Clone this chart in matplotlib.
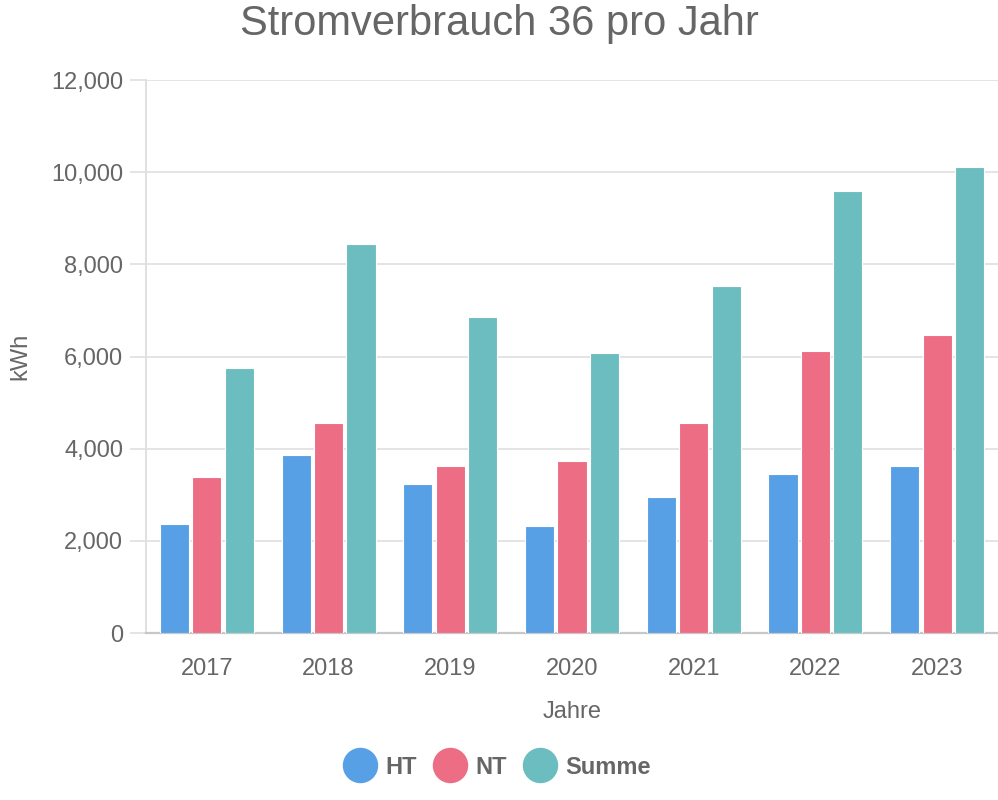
import numpy as np
import matplotlib
matplotlib.use("Agg")
from matplotlib import pyplot as plt
from matplotlib.ticker import FuncFormatter
from matplotlib.lines import Line2D

plt.rcParams['font.family'] = ['Liberation Sans', 'DejaVu Sans']

# data
years = ['2017', '2018', '2019', '2020', '2021', '2022', '2023']
ht = [2360, 3860, 3230, 2320, 2950, 3450, 3630]
nt = [3390, 4555, 3620, 3740, 4555, 6120, 6460]
summe = [5750, 8440, 6860, 6080, 7530, 9590, 10110]
series_names = ['HT', 'NT', 'Summe']
colors = ['#57a0e5', '#ed6d85', '#6cbdbf']

grey = '#666666'
W, H = 998, 800

fig = plt.figure(figsize=(W / 100, H / 100), dpi=100)
ax = fig.add_axes([146 / W, 1 - 633 / H, (998 - 146) / W, (633 - 80) / H])

x = np.arange(len(years))
slot = 0.8 / 3
bar_w = slot * 0.9
for i, (vals, c) in enumerate(zip([ht, nt, summe], colors)):
    ax.bar(x + (i - 1) * slot, vals, width=bar_w, color=c,
           edgecolor='white', linewidth=0.8, zorder=3)

ax.set_xlim(-0.5, len(years) - 0.5)
ax.set_ylim(0, 12000)
ax.set_yticks(np.arange(0, 12001, 2000))
ax.yaxis.set_major_formatter(FuncFormatter(lambda v, p: f'{int(v):,}'))
ax.set_xticks(x)
ax.set_xticklabels(years)

ax.grid(axis='y', color='#e4e4e4', linewidth=1.4, zorder=0)
ax.tick_params(axis='y', length=11.5, color='#e4e4e4', width=1.4, pad=5,
               labelsize=17, labelcolor=grey)
ax.tick_params(axis='x', length=0, pad=18, labelsize=17, labelcolor=grey)

for s in ['top', 'right']:
    ax.spines[s].set_visible(False)
ax.spines['left'].set_color('#e0e0e0')
ax.spines['left'].set_linewidth(1.4)
ax.spines['bottom'].set_color('#c8c8c8')
ax.spines['bottom'].set_linewidth(1.6)

ax.set_xlabel('Jahre', fontsize=17, color=grey)
ax.xaxis.set_label_coords(0.5, -(712 - 633) / (633 - 80))
ax.xaxis.label.set_va('center')
ax.set_ylabel('kWh', fontsize=17, color=grey)
ax.yaxis.set_label_coords((20 - 146) / (998 - 146), 0.5)
ax.yaxis.label.set_va('center')

fig.text(0.5, 1 - 24 / H, 'Stromverbrauch 36 pro Jahr', ha='center', va='center',
         fontsize=30, color=grey)

handles = [Line2D([0], [0], marker='o', linestyle='', markersize=24.5,
                  markerfacecolor=c, markeredgecolor=c) for c in colors]
leg = fig.legend(handles, series_names, loc='center', bbox_to_anchor=(496.5 / W, 1 - 767 / H),
                 ncol=3, frameon=False, handlelength=1.5, handletextpad=0.34,
                 columnspacing=0.64, prop={'size': 17, 'weight': 'bold'})
for t in leg.get_texts():
    t.set_color(grey)

fig.savefig('out.png', dpi=100)
